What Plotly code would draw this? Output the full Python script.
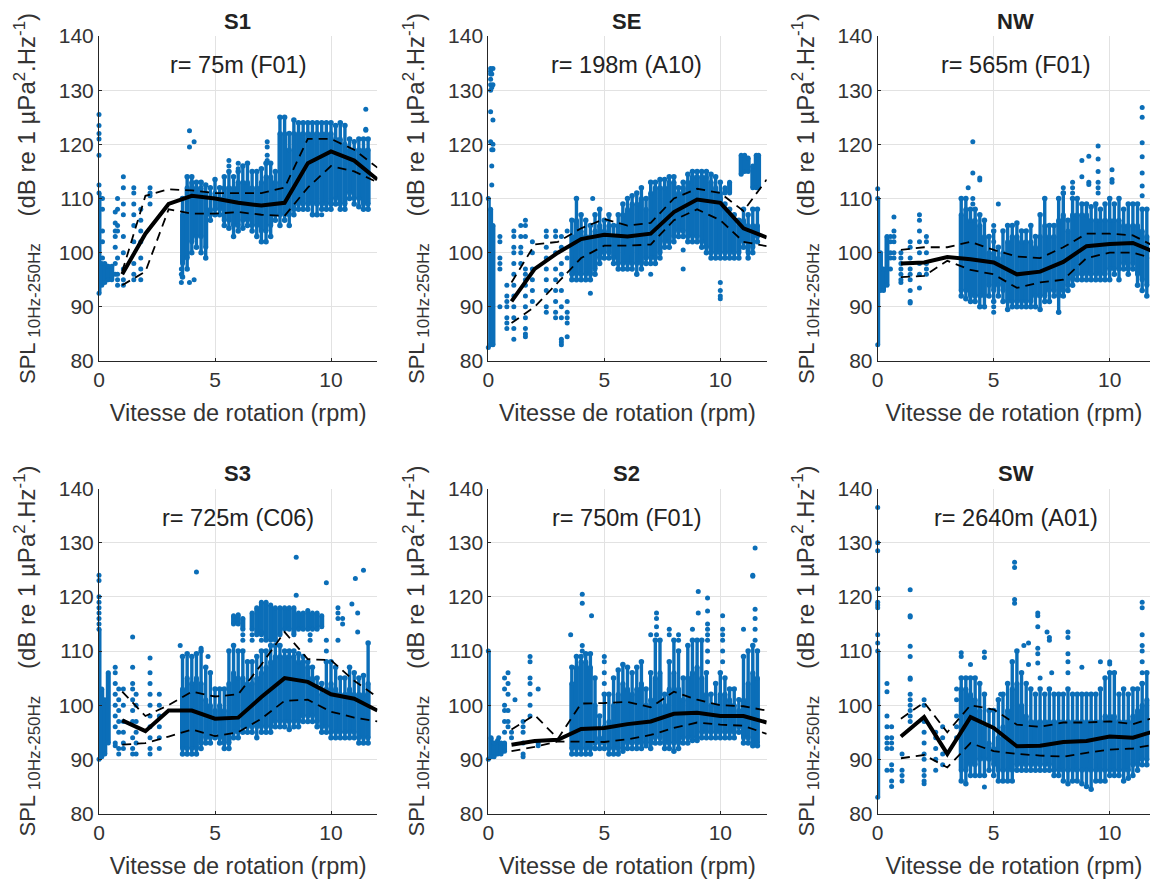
import plotly.graph_objects as go

# Values read off the picture. The dense point clouds are recorded as estimated
# per-column extents: outer lo/hi (streaks with end dots) and core lo/hi
# (solid part); isolated points are recorded one by one.
rpm_bins = [1, 2, 3, 4, 5, 6, 7, 8, 9, 10, 11, 12]
cloud_rpm = [3.6, 3.8, 4.0, 4.2, 4.4, 4.6, 4.8, 5.0, 5.2, 5.4, 5.6, 5.8, 6.0, 6.2, 6.4, 6.6, 6.8, 7.0, 7.2, 7.4, 7.6,
             7.8, 8.0, 8.2, 8.4, 8.6, 8.8, 9.0, 9.2, 9.4, 9.6, 9.8, 10.0, 10.2, 10.4, 10.6, 10.8, 11.0, 11.2, 11.4, 11.6]
x_ticks = [0, 5, 10]
y_ticks = [80, 90, 100, 110, 120, 130, 140]

titles = ["S1", "SE", "NW", "S3", "S2", "SW"]
notes = ["r= 75m (F01)", "r= 198m (A10)", "r= 565m (F01)", "r= 725m (C06)", "r= 750m (F01)", "r= 2640m (A01)"]

# ---- S1
S1_mean = [96, 103.5, 109, 110.5, 110, 109.2, 108.7, 109.2, 116.5, 118.7, 117, 113.5]
S1_up = [96.5, 110.5, 111.7, 111.5, 111, 111, 111, 112, 121, 121, 119, 115.7]
S1_dn = [94, 96.5, 108, 107.2, 107.2, 107.5, 107, 106.8, 112, 116, 115, 113]
S1_lo = [95.5, 97, 100, 101, 100, 99, 106, 107, 107, 105, 104.5, 103, 104, 104.5, 105, 104, 103, 102, 102, 103, 106,
         105, 106, 105, 107, 108, 108, 108, 107, 107, 108, 108, 108, 109, 108, 108, 110, 109, 108.5, 108, 108]
S1_hi = [110, 114, 114, 113, 113, 112.5, 112, 113.5, 112, 114, 115, 114, 115, 116, 116.5, 115, 115, 115.5, 116.5, 116.5, 115,
         125, 125, 122, 124.5, 124, 124, 124, 124, 124, 124, 124, 124, 123.5, 124, 123.5, 121, 120.5, 121, 121, 121]
S1_core_lo = [98, 99, 102, 103, 103, 101, 107, 108, 108, 106, 106, 105, 105, 106, 106, 105, 105, 104, 104, 105, 107,
              107, 107, 107, 108, 109, 109, 109, 109, 109, 109, 109, 109, 110, 109, 109, 111, 110, 110, 109, 109]
S1_core_hi = [107, 112, 113, 112, 112, 111, 108, 111, 110, 112, 112, 112, 113, 113, 113, 112, 112, 113, 114, 114, 113,
              122, 122, 119, 122, 122, 122, 122, 122, 122, 122, 122, 122, 121, 121, 120, 119, 119, 119, 119, 119]
S1_strip_rpm = [0, 0.12, 0.25, 0.4, 0.55]
S1_strip_lo = [92.5, 94, 94.5, 95, 95]
S1_strip_hi = [111, 98, 98, 97.5, 97.5]
S1_pts_rpm = [0, 0.15, 0.7, 0.8, 1.05, 1.5, 1.8, 2.2, 3.55, 3.9, 4.1, 7.25, 5.6, 6.0, 9.6, 11.5]
S1_pts_spl = [[112.5, 118, 121, 122, 123.5, 125.5], [110, 108, 104, 102, 99], [107.5, 105.5, 104, 103, 101, 98, 96],
              [110, 108, 105, 104, 99, 96, 95, 94], [114, 112, 109, 107, 103, 100, 97, 95, 94],
              [112, 111, 109, 107, 105, 102, 98, 96, 95], [108, 106, 104, 102, 99, 97, 95], [112, 111, 110.5, 109],
              [94.5, 96, 97], [122.5, 119.5, 94.5], [120.5, 95], [120.5, 119.5, 118, 117], [116, 117], [116.5, 115.5],
              [107], [126.5, 122.8, 122.6]]

# ---- SE
SE_mean = [91, 97, 100, 102.5, 103.3, 103, 103.5, 107.5, 109.8, 109.2, 104.5, 102.8]
SE_up = [94.5, 101.5, 102, 104.5, 106.2, 105, 105.5, 110, 111.8, 111, 107.7, 113.5]
SE_dn = [87, 90, 94.5, 99, 101.3, 101.3, 101.5, 106, 108, 106, 102, 101.2]
SE_lo = [95, 95, 95, 95, 95, 96, 98, 99, 99, 98, 97, 97, 97, 97, 96, 97, 98, 98, 98, 99, 101,
         101, 102, 103, 103, 102, 102, 102, 101, 100, 99, 99, 99, 99, 99, 99, 99, 101, 99, 100, 102]
SE_hi = [106, 110, 107, 106, 105, 107, 108, 106, 107, 105, 107, 109, 110, 110.5, 111, 112, 110, 113, 113, 113.5, 113.5,
         114, 114, 112, 113, 114.5, 115, 115, 115, 115, 114.5, 114, 113, 109, 108, 107, 106, 108, 107, 108, 108]
SE_core_lo = [96, 96, 96, 96, 96, 97, 99, 100, 100, 99, 98, 98, 98, 98, 98, 98, 99, 99, 99, 100, 102,
              102, 103, 104, 104, 103, 103, 103, 102, 101, 100, 100, 100, 100, 100, 100, 100, 102, 100, 101, 103]
SE_core_hi = [103, 106, 104, 103, 103, 104, 105, 104, 105, 103, 105, 107, 108, 109, 109, 110, 108, 111, 112, 112, 112,
              113, 113, 111, 112, 113, 114, 114, 114, 114, 113, 112, 111, 108, 107, 106, 105, 106, 105, 105, 105]
SE_strip_rpm = [0, 0.1, 0.2]
SE_strip_lo = [82.5, 83, 83]
SE_strip_hi = [110, 108, 105]
SE_band_rpm = [10.0, 10.2, 10.4, 10.9, 11.05, 11.2, 11.4, 11.55, 11.65]
SE_band_lo = [108, 111, 111, 114.5, 115, 115, 112, 112, 112]
SE_band_hi = [110, 112, 113, 118, 118, 117.5, 116, 118, 118]
SE_pts_rpm = [0.1, 0.15, 0.2, 0.5, 0.8, 1.1, 1.4, 1.6, 1.9, 2.5, 2.9, 3.15, 3.4, 4.4, 7.0, 8.4, 10.0, 4.5]
SE_pts_spl = [[130, 131, 132, 133, 134, 133.5, 126, 120.5], [130.5, 133, 116, 119, 112.5], [131, 134, 124.5, 120, 119],
              [103, 102, 99, 98, 97, 90], [94, 92, 91, 90, 88, 87, 86], [104, 103, 101, 100, 98, 96, 94, 92, 90, 88, 86, 84],
              [105, 103, 101, 100, 98], [106, 105, 103, 97, 96, 95, 94, 92, 90, 88, 86, 85, 84.5], [102, 100, 97, 95, 93, 91],
              [104, 103, 101, 99, 97, 95, 93, 90, 89], [104, 103, 100, 97, 95, 93, 91, 89, 88],
              [103, 101, 98, 96, 93, 90, 88, 84, 83.5, 83], [104, 99, 91, 89, 88, 87, 84.5], [92.5], [96], [97, 100.5],
              [94.5, 93, 92, 91.5], [110]]

# ---- NW
NW_mean = [98, 98.2, 99.2, 98.8, 98.2, 96, 96.5, 98.3, 101.2, 101.6, 101.8, 100]
NW_up = [100.5, 101, 101, 102, 100.5, 99.3, 99, 101, 103.5, 103.5, 103.2, 101]
NW_dn = [95.5, 95.7, 98.5, 96.8, 96, 93.5, 94.5, 95, 99, 100, 100, 98.8]
NW_lo = [92, 91.5, 91, 91, 90, 90, 92, 91, 92, 91, 89.5, 90, 90, 90, 90, 90, 90, 89.5, 91, 91, 92,
         89, 92, 93, 94, 95, 95, 95, 95, 95, 95, 95, 95, 96, 95, 97, 96, 97, 94, 93, 92]
NW_hi = [110, 110, 108, 108, 107, 106, 103, 104, 101, 104, 105, 105, 105.5, 104, 104, 105, 103, 107, 110, 105, 105,
         110, 111, 106, 110, 110, 109, 109, 108.5, 109, 108, 109, 110, 109, 110, 108, 109, 109, 109, 108, 108]
NW_core_lo = [93, 93, 92, 92, 92, 92, 94, 93, 94, 93, 91, 91, 91, 91, 91, 91, 92, 92, 92, 93, 93,
              92, 93, 94, 95, 96, 96, 96, 96, 96, 96, 96, 97, 97, 97, 98, 97, 98, 96, 95, 94]
NW_core_hi = [107, 108, 106, 106, 105, 103, 100, 100, 99, 100, 102, 103, 103, 102, 102, 102, 101, 103, 105, 103, 103,
              106, 107, 104, 107, 107, 107, 107, 106, 106, 106, 106, 106, 106, 106, 105, 105, 105, 105, 104, 103]
NW_strip_rpm = [0, 0.12, 0.25, 0.4]
NW_strip_lo = [83, 93, 93, 94]
NW_strip_hi = [110, 100, 97, 103]
NW_pts_rpm = [0, 0.55, 0.7, 1.0, 1.4, 1.8, 2.1, 4.1, 4.4, 3.9, 5.2, 5.0, 8.0, 8.4, 8.8, 9.1, 9.5, 10.1, 11.4]
NW_pts_spl = [[111.8], [103, 102, 100, 99, 97], [106.6, 104, 103, 102, 100, 99], [100, 99, 98, 97, 96, 95, 94.5],
              [102, 101, 99, 97, 96, 95, 93, 91, 90.7], [107, 106, 104, 102, 100, 98, 96, 93.5], [103, 102, 100, 98, 97, 96],
              [120.5, 114.7, 110, 109], [113.8, 113.4], [112], [109], [105, 102, 90, 89], [112, 111], [113, 112, 111],
              [117, 114], [117.8, 113, 112.6], [119.7, 117.3, 115, 113, 112, 111], [115.3, 113.5, 113],
              [126.8, 125, 120.3, 117.7, 114.7, 112.3, 110.5]]

# ---- S3
S3_mean = [97.2, 95.2, 99, 99, 97.5, 97.7, 101.5, 105, 104.3, 102, 101.2, 99]
S3_up = [102.5, 98, 100, 102.5, 101.6, 102, 107.5, 113.5, 108.5, 108.3, 104.5, 101.5]
S3_dn = [92.7, 93, 94.2, 95.5, 94.3, 95, 97.5, 100.8, 101, 98.8, 97.7, 97]
S3_lo = [91, 91, 91, 91, 92, 93, 93, 94, 93, 92, 92, 94, 94, 95, 95, 95, 94, 95, 95, 95, 96,
         96, 96, 95.5, 96, 96, 97, 97, 97, 96, 95, 95, 94, 94, 94, 94, 94, 94, 93, 93, 93]
S3_hi = [109, 109.5, 109, 109.5, 110, 107, 106, 103, 103, 103, 110, 111, 110, 110, 108, 108, 109, 110, 110, 111, 111,
         111, 110, 110, 110, 109.5, 109, 108, 107, 105, 104, 108, 108, 107, 105, 105, 107, 106, 105, 105.5, 111.5]
S3_core_lo = [92, 92, 92, 92, 93, 94, 94, 95, 94, 93, 93, 95, 95, 96, 96, 96, 96, 96, 96, 96, 97,
              97, 97, 97, 97, 97, 98, 98, 98, 97, 96, 96, 95, 95, 95, 95, 95, 95, 94, 94, 94]
S3_core_hi = [103, 105, 104, 105, 104, 101, 100, 99, 100, 99, 104, 106, 105, 105, 104, 104, 105, 106, 107, 108, 109,
              109, 109, 109, 109, 108, 108, 107, 105, 103, 102, 103, 104, 103, 102, 102, 103, 102, 102, 102, 104]
S3_strip_rpm = [0, 0.12, 0.25, 0.4]
S3_strip_lo = [90, 90.5, 91, 93]
S3_strip_hi = [114, 103, 101, 106]
S3_band_rpm = [5.8, 6.0, 6.2, 6.6, 6.8, 7.0, 7.2, 7.4, 7.6, 7.8, 8.0, 8.2, 8.4, 8.6, 8.8, 9.0, 9.2, 9.4, 9.6]
S3_band_lo = [115, 115, 114, 114, 113, 113, 112, 112, 112, 113, 114, 114, 113, 114, 114, 114, 114, 114, 114.5]
S3_band_hi = [116.5, 116.7, 116, 117, 118, 119, 119, 118.5, 118, 118, 118, 118, 118, 117, 117, 117.5, 117, 117, 116.5]
S3_pts_rpm = [0, 0.7, 0.85, 1.05, 1.45, 1.6, 2.2, 2.6, 3.5, 4.2, 4.4, 4.7, 6.2, 6.6, 7.0, 8.5, 9.1, 9.8, 10.3, 10.5, 10.9, 11.05, 11.15, 11.4]
S3_pts_spl = [[115, 116, 117, 118, 119, 120, 123, 124], [107, 106, 104, 102, 100, 98, 96, 93, 92.5], [103, 101, 99, 97, 95, 92, 91],
              [103, 100, 97, 95, 93, 92], [104, 103, 101, 99, 97, 94, 92, 91, 112.6, 107], [102, 100, 97, 95, 93, 91],
              [108.7, 106, 104, 102, 100, 98, 96, 94, 92, 91], [102, 100, 98, 96, 94, 92], [111], [124.6], [110.5], [109],
              [112, 113], [112, 113], [112, 113.5], [127.3, 120.3], [112, 113], [122.6, 110, 112], [118, 117, 116, 112],
              [116, 115], [118.7], [123.4], [117, 113.5], [124.9]]

# ---- S2
S2_mean = [92.7, 93.4, 93.6, 95.6, 95.8, 96.5, 97, 98.4, 98.6, 98, 98, 96.8]
S2_up = [95.5, 98.2, 93.8, 100.3, 100.4, 100.6, 99.6, 102.5, 101, 100, 99.8, 99]
S2_dn = [91.5, 92.3, 93.3, 93.2, 93.2, 93.7, 94.5, 95.8, 96.8, 96.4, 96.2, 94.7]
S2_lo = [91, 91, 91, 91, 91, 92, 92, 92, 91, 91, 91, 91.5, 92, 92, 92, 92, 92.5, 92, 93, 93, 92,
         92, 91.5, 92, 93, 93, 93.5, 93.5, 94, 94, 94, 94, 94, 94, 94, 94, 95, 93, 93, 92.5, 92.5]
S2_hi = [107, 109, 109, 109.5, 109.5, 105, 98, 102, 102, 105, 106.5, 107.5, 107, 106, 107, 108, 103, 106, 112, 112, 102,
         108, 112, 110, 105, 111, 112, 112, 112, 106, 102, 104, 106, 105, 103, 103, 101, 109, 110, 111, 110]
S2_core_lo = [92, 92, 92, 92, 92, 93, 93, 93, 92, 92, 92, 92, 93, 93, 93, 93, 93, 93, 94, 94, 93,
              93, 93, 93, 94, 94, 94, 94, 95, 95, 95, 95, 95, 95, 95, 95, 96, 94, 94, 93, 93]
S2_core_hi = [104, 107, 108, 108, 107, 100, 94, 96, 97, 100, 102, 104, 103, 102, 103, 104, 100, 101, 105, 106, 100,
              103, 106, 103, 101, 105, 106, 107, 105, 102, 100, 100, 102, 102, 101, 100, 99, 101, 104, 106, 105]
S2_strip_rpm = [0, 0.12, 0.25, 0.4, 0.55, 0.7]
S2_strip_lo = [90, 90.5, 90.5, 91, 91, 91.5]
S2_strip_hi = [110, 94, 93, 93.5, 93, 93]
S2_pts_rpm = [0.45, 0.7, 0.85, 1.0, 1.15, 1.5, 1.8, 2.15, 3.55, 4.05, 4.45, 5.0, 7.25, 7.0, 7.8, 8.2, 8.8, 9.05, 9.45, 10.1, 11.0, 11.4, 11.5]
S2_pts_spl = [[94], [105, 103, 100, 99, 97, 95], [106, 104, 102, 99, 97, 96], [95, 94], [101], [97, 96, 95, 93, 91, 90.5],
              [109, 108, 105, 104, 102, 100, 98], [103, 93, 92.5], [113], [120.5, 118.8, 111, 110], [116.5], [109, 108, 106, 104],
              [117, 116, 113, 114.5], [113], [114, 113], [113, 112], [114], [121, 117], [119.8, 117.4, 115, 114, 113, 112, 110, 108],
              [116.5, 114, 113, 112, 110, 108], [114], [124, 123.8], [129, 117.7, 116, 114, 112]]

# ---- SW
SW_mean = [94.2, 97.8, 91, 97.8, 95.8, 92.4, 92.5, 93.2, 93.4, 94.2, 94, 95.3]
SW_up = [97.5, 100.5, 95, 100, 99.2, 96.4, 96, 96.8, 96.8, 97, 96.5, 97.8]
SW_dn = [90.2, 90.8, 88.5, 93, 91.5, 91, 90.7, 90.5, 91.2, 91.8, 92, 92.8]
SW_lo = [86, 85.5, 87, 87, 87, 87, 88, 87, 86, 86, 86, 86, 88, 88, 88, 88, 88, 88, 88, 88, 87,
         87, 86, 85.5, 86, 86, 85.5, 85, 84.5, 86, 86, 86, 87, 87, 87, 86, 86.5, 87, 88, 89, 89]
SW_hi = [105, 105, 105, 105, 104, 102, 99, 99, 101, 102, 104, 108, 110, 106, 104, 103, 102, 103, 102, 103, 102,
         102, 102, 103, 102, 102, 102, 102, 102, 102, 103, 105, 106, 106, 102, 103, 102, 103, 103, 104, 106]
SW_core_lo = [88, 88, 89, 89, 90, 90, 90, 89, 88, 88, 88, 88, 89, 89, 89, 89, 89, 89, 89, 89, 88,
              88, 88, 88, 88, 88, 88, 88, 88, 88, 88, 88, 88, 88, 88, 88, 88, 89, 89, 90, 90]
SW_core_hi = [103, 103, 102, 101, 99, 96, 93, 92, 94, 96, 99, 103, 104, 100, 98, 97, 97, 97, 97, 97, 97,
              97, 97, 97, 97, 97, 97, 97, 97, 97, 97, 98, 98, 98, 97, 97, 97, 98, 99, 100, 101]
SW_strip_rpm = [0]
SW_strip_lo = [83]
SW_strip_hi = [110]
SW_pts_rpm = [0, 0.4, 0.6, 1.05, 1.4, 2.0, 2.5, 2.8, 3.4, 3.6, 4.0, 4.6, 5.3, 5.9, 6.3, 6.5, 6.9, 7.0, 7.3, 7.4, 7.5, 8.2, 8.8, 9.6, 10.0, 11.4]
SW_pts_spl = [[136.5, 130, 128.5, 121.5, 119, 118.5, 118, 113, 111.5], [104, 102.5, 98, 96, 94, 93, 92, 88], [96, 94, 93, 92, 89, 88, 86, 85],
              [91, 88, 87, 86], [121.3, 116.5, 116.3, 110.9, 109, 105, 104.8, 102, 101, 100, 99, 98, 97],
              [101, 100, 97, 95, 93, 91, 90, 88, 87, 86, 85.5], [95, 94, 92, 90, 88], [96, 94, 91, 89], [103, 101, 98, 96, 94],
              [109.7, 109], [107.5], [109.8, 108.8, 84.9], [102], [126.4, 125.4, 119.5, 118.8], [111], [111.5, 107.5],
              [117, 116.5, 114.5, 110.5, 109.5, 107.8], [105], [113.5], [112.5, 112], [106], [113.5, 112.5, 109.5, 108, 106],
              [107], [108], [108, 107.6], [119, 118, 113, 111, 110, 108, 106, 104]]

mean_series = [S1_mean, SE_mean, NW_mean, S3_mean, S2_mean, SW_mean]
up_series = [S1_up, SE_up, NW_up, S3_up, S2_up, SW_up]
dn_series = [S1_dn, SE_dn, NW_dn, S3_dn, S2_dn, SW_dn]
lo_series = [S1_lo, SE_lo, NW_lo, S3_lo, S2_lo, SW_lo]
hi_series = [S1_hi, SE_hi, NW_hi, S3_hi, S2_hi, SW_hi]
core_lo_series = [S1_core_lo, SE_core_lo, NW_core_lo, S3_core_lo, S2_core_lo, SW_core_lo]
core_hi_series = [S1_core_hi, SE_core_hi, NW_core_hi, S3_core_hi, S2_core_hi, SW_core_hi]
strips = [(S1_strip_rpm, S1_strip_lo, S1_strip_hi), (SE_strip_rpm, SE_strip_lo, SE_strip_hi),
          (NW_strip_rpm, NW_strip_lo, NW_strip_hi), (S3_strip_rpm, S3_strip_lo, S3_strip_hi),
          (S2_strip_rpm, S2_strip_lo, S2_strip_hi), (SW_strip_rpm, SW_strip_lo, SW_strip_hi)]
bands = [None, (SE_band_rpm, SE_band_lo, SE_band_hi), None, (S3_band_rpm, S3_band_lo, S3_band_hi), None, None]
points = [(S1_pts_rpm, S1_pts_spl), (SE_pts_rpm, SE_pts_spl), (NW_pts_rpm, NW_pts_spl),
          (S3_pts_rpm, S3_pts_spl), (S2_pts_rpm, S2_pts_spl), (SW_pts_rpm, SW_pts_spl)]

W, H = 1150, 879
PX_PER_RPM = 23.2
lefts = [99, 488.3, 877.7]
tops = [36, 488.5]
plot_h = 325
BLUE = "#0b6eb8"
TXT = "#333333"
FONT = "Liberation Sans"
Y_TITLE = ('<span style="font-size:22px">SPL</span><span style="font-size:17px">&nbsp;</span>'
           '<sub><span style="font-size:17px">10Hz-250Hz</span></sub>'
           '&nbsp;&nbsp;&nbsp;&nbsp;(dB re 1 µPa<sup>2</sup>.Hz<sup>-1</sup>)')

fig = go.Figure()


def segments(xs, lo, hi):
    sx, sy = [], []
    for x, a, b in zip(xs, lo, hi):
        sx += [x, x, None]
        sy += [a, b, None]
    return sx, sy


for i in range(6):
    r, c = divmod(i, 3)
    ax = "" if i == 0 else str(i + 1)
    xa, ya = "x" + ax, "y" + ax
    left, top = lefts[c], tops[r]
    right = min(left + 12 * PX_PER_RPM, W)
    xmax = (right - left) / PX_PER_RPM

    # outer extents: streaks ending in dots
    sx, sy = segments(cloud_rpm, lo_series[i], hi_series[i])
    fig.add_trace(go.Scatter(x=sx, y=sy, xaxis=xa, yaxis=ya, mode="lines+markers", cliponaxis=False,
                             line=dict(color=BLUE, width=3.4), marker=dict(color=BLUE, size=5.5), showlegend=False))
    # solid parts of the clouds
    columns = [strips[i], (cloud_rpm, core_lo_series[i], core_hi_series[i])]
    if bands[i]:
        columns.append(bands[i])
    for xs, lo, hi in columns:
        sx, sy = segments(xs, lo, hi)
        fig.add_trace(go.Scatter(x=sx, y=sy, xaxis=xa, yaxis=ya, mode="lines+markers", cliponaxis=False,
                                 line=dict(color=BLUE, width=5), marker=dict(color=BLUE, size=5), showlegend=False))
    px, py = [], []
    for x, ys in zip(*points[i]):
        px += [x] * len(ys)
        py += ys
    fig.add_trace(go.Scatter(x=px, y=py, xaxis=xa, yaxis=ya, mode="markers", cliponaxis=False,
                             marker=dict(color=BLUE, size=5), showlegend=False))
    for s in (up_series[i], dn_series[i]):
        fig.add_trace(go.Scatter(x=rpm_bins, y=s, xaxis=xa, yaxis=ya, mode="lines",
                                 line=dict(color="black", width=1.8, dash="9px,6px"), showlegend=False))
    fig.add_trace(go.Scatter(x=rpm_bins, y=mean_series[i], xaxis=xa, yaxis=ya, mode="lines",
                             line=dict(color="black", width=4), showlegend=False))

    fig.layout["xaxis" + ax] = dict(
        domain=[left / W, right / W], range=[0, xmax], anchor=ya, tickvals=x_ticks,
        showgrid=True, gridcolor="#e2e2e2", gridwidth=1, zeroline=False,
        showline=True, linecolor="#262626", linewidth=1, ticks="inside", ticklen=3, tickcolor="#262626",
        tickfont=dict(family=FONT, size=21, color=TXT), tickangle=0,
        title=dict(text="Vitesse de rotation (rpm)", standoff=14, font=dict(family=FONT, size=23.5, color=TXT)))
    fig.layout["yaxis" + ax] = dict(
        domain=[1 - (top + plot_h) / H, 1 - top / H], range=[80, 140], anchor=xa, tickvals=y_ticks,
        showgrid=True, gridcolor="#e2e2e2", gridwidth=1, zeroline=False,
        showline=True, linecolor="#262626", linewidth=1, ticks="inside", ticklen=3, tickcolor="#262626",
        tickfont=dict(family=FONT, size=21, color=TXT),
        title=dict(text=Y_TITLE, standoff=16, font=dict(family=FONT, size=24, color=TXT)))
    fig.add_annotation(xref="paper", yref="paper", x=(left + 138) / W, y=1 - (top - 15) / H, text="<b>%s</b>" % titles[i],
                       showarrow=False, xanchor="center", yanchor="middle", font=dict(family=FONT, size=22, color="#222222"))
    fig.add_annotation(xref="paper", yref="paper", x=(left + 138.5) / W, y=1 - (top + 29) / H, text=notes[i],
                       showarrow=False, xanchor="center", yanchor="middle", font=dict(family=FONT, size=23.5, color="#222222"))

fig.update_layout(width=W, height=H, autosize=False, margin=dict(l=0, r=0, t=0, b=0, autoexpand=False),
                  paper_bgcolor="white", plot_bgcolor="white", showlegend=False)
fig.write_html("out.html", config=dict(displayModeBar=False),
               post_script="document.body.style.margin='0';document.body.style.overflow='hidden';")
